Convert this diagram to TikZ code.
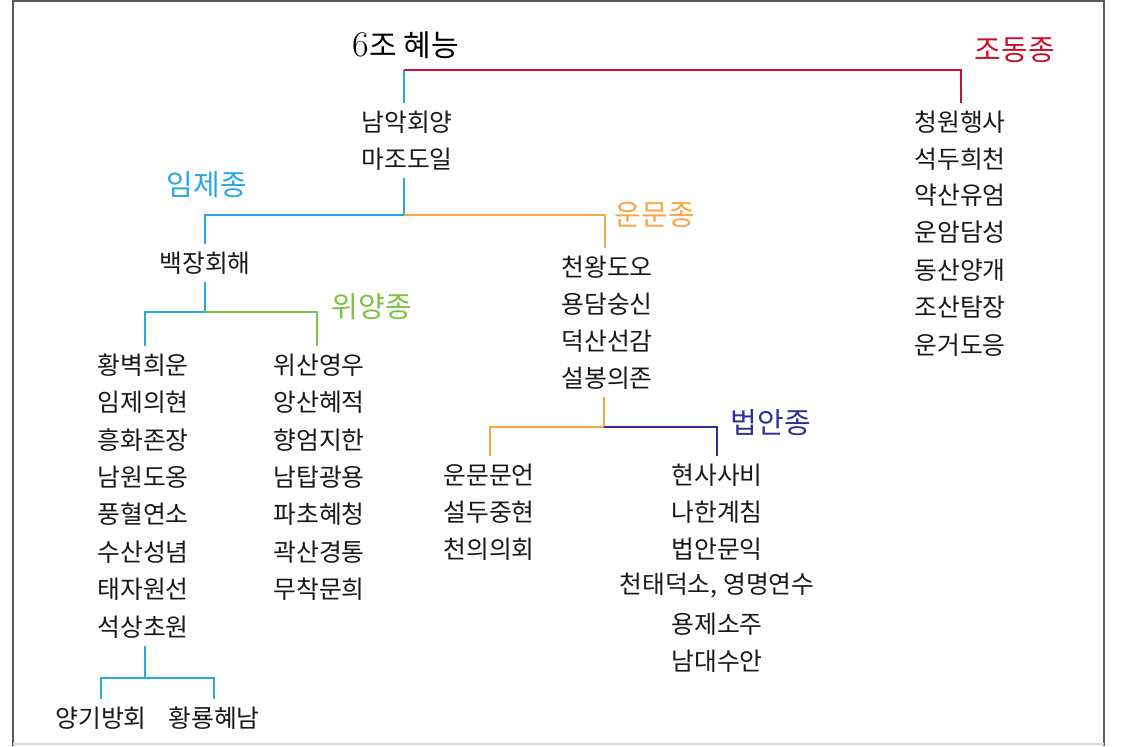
\documentclass[tikz,border=0pt]{standalone}
\usepackage{fontspec}
\newfontfamily\kor{Noto Sans CJK KR}
\usepackage{tikz}
\usetikzlibrary{positioning}

\definecolor{imjeblue}{RGB}{41,168,224}
\definecolor{unmunorange}{RGB}{249,166,70}
\definecolor{wiyanggreen}{RGB}{125,194,66}
\definecolor{beopannavy}{RGB}{46,49,146}
\definecolor{jodongred}{RGB}{200,16,46}

\tikzset{
  master/.style={font=\kor\fontsize{12.4pt}{14pt}\selectfont,inner sep=0pt,minimum height=18.5pt,text=black!90},
  school/.style={font=\kor\fontsize{14.5pt}{16pt}\selectfont,inner sep=0pt},
  branch/.style={line width=1pt},
  frameline/.style={line width=1pt,black!65}
}

\begin{document}
\begin{tikzpicture}[x=0.5pt,y=-0.5pt]
        \useasboundingbox (0,0) rectangle (1134,746);
        \draw[frameline] (13,746) -- (13,1) -- (1104,1) -- (1104,746);
        \draw[line width=1pt,black!15] (13,744) -- (1104,744);

        \node (hyeneung) at (406,45) {\fontsize{18pt}{20pt}\selectfont 6{\kor\fontsize{15pt}{17pt}\selectfont 조 혜능}};

        \node[master] (namak) at (407,122) {남악회양};
        \node[master] (majo) at (407,159) {마조도일};

        \node[master] (baekjang) at (205,263) {백장회해};
        \node[master] (hwangbyeok) at (143,365) {황벽희운};
        \node[master] (imje) at (143,402) {임제의현};
        \node[master] (heunghwa) at (143,440) {흥화존장};
        \node[master] (namwon) at (143,477) {남원도옹};
        \node[master] (punghyeol) at (143,514) {풍혈연소};
        \node[master] (susan) at (143,552) {수산성념};
        \node[master] (taeja) at (143,589) {태자원선};
        \node[master] (seoksang) at (143,627) {석상초원};
        \node[master] (yanggi) at (101,718) {양기방회};
        \node[master] (hwangnyong) at (214,718) {황룡혜남};

        \node[master] (wisan) at (319,365) {위산영우};
        \node[master] (angsan) at (319,402) {앙산혜적};
        \node[master] (hyangeom) at (319,440) {향엄지한};
        \node[master] (namtap) at (319,477) {남탑광용};
        \node[master] (pacho) at (319,514) {파초혜청};
        \node[master] (gwaksan) at (319,552) {곽산경통};
        \node[master] (muchak) at (319,589) {무착문희};

        \node[master] (cheonwang) at (607,267) {천왕도오};
        \node[master] (yongdam) at (607,304) {용담숭신};
        \node[master] (deoksan) at (607,341) {덕산선감};
        \node[master] (seolbong) at (607,378) {설봉의존};

        \node[master] (unmun) at (489,475) {운문문언};
        \node[master] (seoldu) at (489,512) {설두중현};
        \node[master] (cheonui) at (489,549) {천의의회};

        \node[master] (hyeonsa) at (717,475) {현사사비};
        \node[master] (nahan) at (717,512) {나한계침};
        \node[master] (beoban) at (717,549) {법안문익};
        \node[master] (cheontae) at (717,586) {천태덕소, 영명연수};
        \node[master] (yongje) at (717,624) {용제소주};
        \node[master] (namdae) at (717,661) {남대수안};

        \node[master] (cheongwon) at (960,122) {청원행사};
        \node[master] (seokdu) at (960,159) {석두희천};
        \node[master] (yaksan) at (960,195) {약산유엄};
        \node[master] (unam) at (960,232) {운암담성};
        \node[master] (dongsan) at (960,270) {동산양개};
        \node[master] (josan) at (960,307) {조산탐장};
        \node[master] (ungeo) at (960,345) {운거도응};

        \node[school,text=jodongred] (jodong) at (1015,50) {조동종};
        \node[school,text=imjeblue] (imjejong) at (207,185) {임제종};
        \node[school,text=unmunorange] (unmunjong) at (655,215) {운문종};
        \node[school,text=wiyanggreen] (wiyang) at (372,307) {위양종};
        \node[school,text=beopannavy] (beopan) at (771,423) {법안종};

        \coordinate (top) at (404,70);
        \coordinate (ma) at (404,215);
        \coordinate (bj) at (205,312);
        \coordinate (sb) at (604,427);
        \coordinate (ss) at (145,678);

        \draw[branch,imjeblue] (top) -- (namak.north -| top);
        \draw[branch,jodongred] (top) -| ([xshift=0.5pt]cheongwon.north);
        \draw[branch,imjeblue] (majo.south -| ma) -- (ma) -| (baekjang.north);
        \draw[branch,unmunorange] (ma) -| ([xshift=-1pt]cheonwang.north);
        \draw[branch,imjeblue] (baekjang.south) -- (bj) -| ([xshift=1pt]hwangbyeok.north);
        \draw[branch,wiyanggreen] (bj) -| ([xshift=-1pt]wisan.north);
        \draw[branch,unmunorange] (seolbong.south -| sb) -- (sb) -| ([xshift=0.5pt]unmun.north);
        \draw[branch,beopannavy] (sb) -| (hyeonsa.north);
        \draw[branch,imjeblue] (seoksang.south -| ss) -- (ss);
        \draw[branch,imjeblue] (yanggi.north) |- (ss) -| (hwangnyong.north);
\end{tikzpicture}
\end{document}
